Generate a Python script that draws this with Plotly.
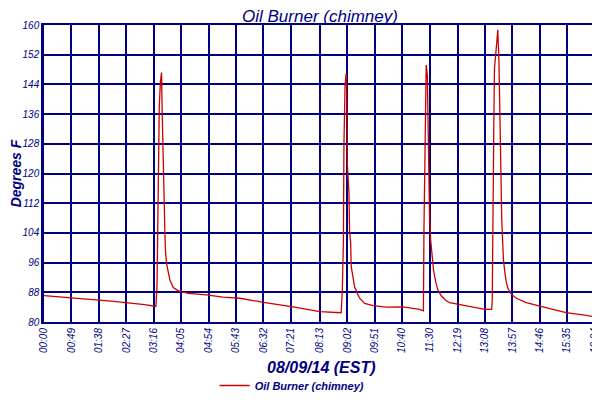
import plotly.graph_objects as go

# time of day in minutes from midnight, chimney temperature in deg F
minutes = [
    0, 60, 120, 180, 200,
    202, 204, 206, 208, 210, 211, 214, 216, 217, 219, 222, 225, 231, 240, 258,
    290, 320, 350, 392, 445, 493, 531,
    533, 535, 536, 538, 540, 541, 542, 545, 546, 548, 549, 552, 555, 560, 564,
    573, 588, 612, 636, 642, 671, 678,
    679, 682, 683, 685, 686, 688, 689, 691, 694, 696, 700, 704, 710, 719, 725,
    743, 767, 788, 800,
    801, 802, 804, 805, 808, 810, 811, 813, 815, 816, 818, 820, 821, 824, 826,
    829, 835, 844, 862, 886, 910, 933, 963, 990,
]
degrees = [
    87.1, 86.4, 85.6, 84.7, 84.2,
    90.2, 117.4, 138.0, 144.7, 147.2, 138.0, 110.6, 104.3, 99.4, 95.8, 93.5, 91.3, 89.3, 88.4, 87.7,
    87.3, 86.7, 86.4, 85.3, 84.1, 82.8, 82.5,
    88.1, 101.4, 127.7, 143.8, 147.0, 141.6, 122.6, 114.7, 104.6, 101.3, 94.9, 91.8, 89.5, 87.7, 86.4,
    85.0, 84.4, 84.0, 84.0, 84.1, 83.4, 83.0,
    105.2, 135.3, 149.2, 146.5, 132.2, 122.3, 108.4, 102.1, 97.6, 94.0, 90.8, 88.6, 87.0, 85.7, 85.2,
    84.6, 84.0, 83.4, 83.4,
    85.9, 111.1, 135.8, 148.3, 152.8, 157.8, 158.7, 150.1, 128.6, 120.0, 107.7, 100.3, 96.7, 92.9, 90.8,
    89.1, 87.5, 86.4, 85.2, 84.3, 83.4, 82.5, 81.9, 81.3,
]

tick_minutes = [0, 49, 98, 147, 196, 245, 294, 343, 392, 441, 493, 542, 591,
                640, 690, 739, 788, 837, 886, 935, 984, 990]
tick_labels = ["00:00", "00:49", "01:38", "02:27", "03:16", "04:05", "04:54",
               "05:43", "06:32", "07:21", "08:13", "09:02", "09:51", "10:40",
               "11:30", "12:19", "13:08", "13:57", "14:46", "15:35", "16:24",
               "16:30"]
y_ticks = [80, 88, 96, 104, 112, 120, 128, 136, 144, 152, 160]

navy = "#000080"

fig = go.Figure()
fig.add_trace(go.Scatter(
    x=minutes,
    y=degrees,
    mode="lines",
    name="Oil Burner (chimney)",
    line=dict(color="#cc0000", width=1.3),
))

# page body has an 8px margin, so the figure is a bit smaller than the window
fig.update_layout(
    width=592,
    height=392,
    margin=dict(l=36, r=2, t=17, b=78),
    paper_bgcolor="white",
    plot_bgcolor="white",
    font=dict(family="Liberation Sans", color=navy),
    title=dict(
        text="Oil Burner (chimney)",
        x=0.527, xanchor="center",
        y=0.995, yanchor="top",
        pad=dict(t=0, b=0),
        font=dict(size=17, color=navy, style="italic"),
    ),
    showlegend=True,
    legend=dict(
        orientation="h",
        xref="container", yref="container",
        x=0.48, xanchor="center",
        y=0.0, yanchor="bottom",
        font=dict(size=11, color=navy, style="italic", weight="bold"),
        bgcolor="rgba(0,0,0,0)",
    ),
)

# x axis title placed as a note so it sits where the reference has it
fig.add_annotation(
    text="08/09/14 (EST)",
    xref="paper", yref="paper",
    x=0.5, y=-0.152,
    xanchor="center", yanchor="middle",
    showarrow=False,
    font=dict(size=16, color=navy, style="italic", weight="bold"),
)

fig.update_xaxes(
    automargin=False,
    range=[0, 990],
    tickmode="array",
    tickvals=tick_minutes,
    ticktext=tick_labels,
    tickangle=-90,
    tickfont=dict(size=10, color=navy, style="italic"),
    showgrid=True,
    gridcolor=navy,
    gridwidth=1.5,
    showline=True,
    linecolor=navy,
    linewidth=2,
    mirror=True,
    zeroline=False,
    ticks="",
)

fig.update_yaxes(
    automargin=False,
    range=[80, 160],
    tickmode="array",
    tickvals=y_ticks,
    tickfont=dict(size=10, color=navy, style="italic"),
    showgrid=True,
    gridcolor=navy,
    gridwidth=1.5,
    showline=True,
    linecolor=navy,
    linewidth=2.5,
    mirror=True,
    zeroline=False,
    ticks="",
    title=dict(
        text="Degrees F",
        font=dict(size=14, color=navy, style="italic", weight="bold"),
        standoff=2,
    ),
)

fig.write_html("out.html")
